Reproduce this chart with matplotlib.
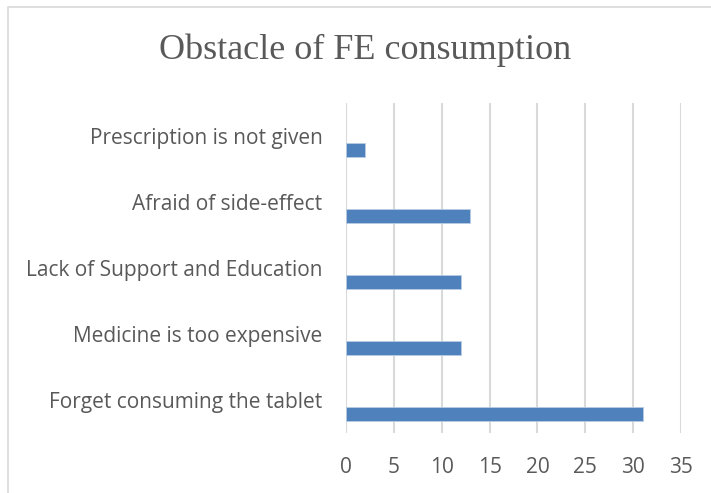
import matplotlib.pyplot as plt
from matplotlib.patches import Rectangle

categories = ['Forget consuming the tablet', 'Medicine is too expensive',
              'Lack of Support and Education', 'Afraid of side-effect',
              'Prescription is not given']
values = [31, 12, 12, 13, 2]
xticks = [0, 5, 10, 15, 20, 25, 30, 35]

text_color = '#595959'
grid_color = '#D9D9D9'
bar_color = '#4F81BD'

fig = plt.figure(figsize=(7.11, 4.93), dpi=100)
# chart frame like excel
fig.patches.append(Rectangle((8 / 711, -0.05), 1.1, 1 - 7 / 493 + 0.05,
                             transform=fig.transFigure, fill=False,
                             edgecolor=grid_color, linewidth=1.2))

ax = fig.add_axes([346 / 711, 1 - 433 / 493, 335 / 711, 330 / 493])

pos = list(range(len(categories)))
# bars sit in the lower part of each band (empty second series in excel)
ax.barh([p - 0.21 for p in pos], values, height=0.21, color=bar_color,
        edgecolor='#B8CCE4', linewidth=0.6, zorder=3)

ax.set_xlim(0, 35)
ax.set_ylim(-0.5, len(categories) - 0.5)
ax.set_xticks(xticks)
ax.set_yticks(pos)
ax.set_yticklabels(categories)
ax.grid(axis='x', color=grid_color, linewidth=1.5, zorder=0)
for s in ax.spines.values():
    s.set_visible(False)
ax.tick_params(axis='both', length=0, labelcolor=text_color, labelsize=15)
ax.tick_params(axis='y', pad=17)
ax.tick_params(axis='x', pad=17)
for lbl in ax.get_xticklabels() + ax.get_yticklabels():
    lbl.set_fontfamily('Open Sans')

fig.text(365 / 711, 1 - 50 / 493, 'Obstacle of FE consumption',
         ha='center', va='center', fontsize=26, color=text_color,
         family='Liberation Serif')

fig.savefig('out.png', dpi=100)
